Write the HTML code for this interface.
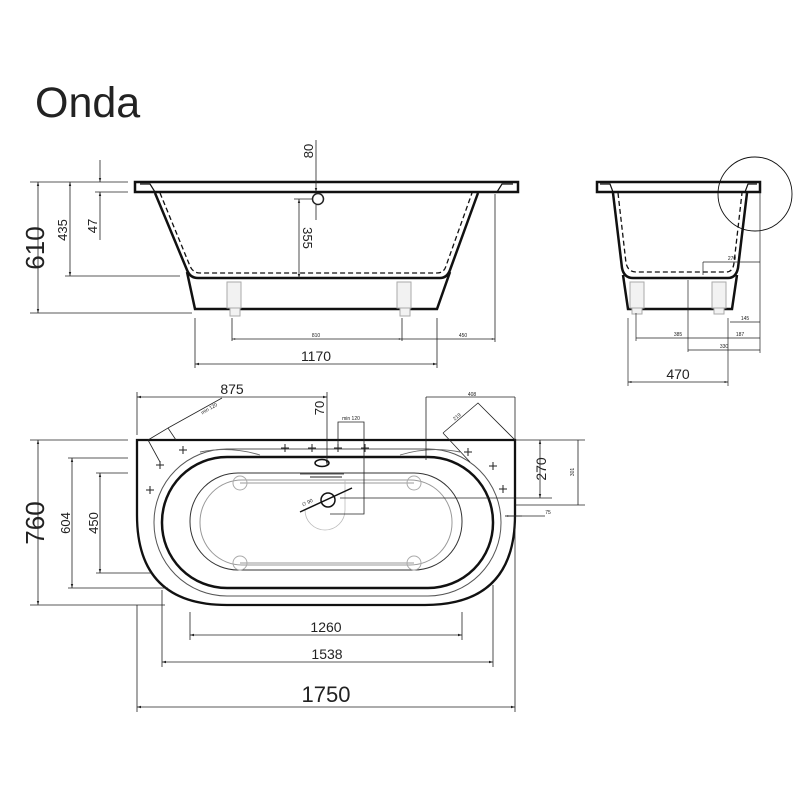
<!DOCTYPE html>
<html><head><meta charset="utf-8"><style>
html,body{margin:0;padding:0;background:#fff;width:800px;height:800px;overflow:hidden}
svg{display:block}
text{font-family:"Liberation Sans",sans-serif;fill:#222}
</style></head><body>
<svg width="800" height="800" viewBox="0 0 800 800" xmlns="http://www.w3.org/2000/svg">
<defs>
<marker id="a" viewBox="0 0 10 10" refX="10" refY="5" markerWidth="8" markerHeight="5" orient="auto-start-reverse"><path d="M0,2 L10,5 L0,8z" fill="#222"/></marker>
<marker id="s" viewBox="0 0 10 10" refX="10" refY="5" markerWidth="5" markerHeight="4" orient="auto-start-reverse"><path d="M0,2 L10,5 L0,8z" fill="#444"/></marker>
</defs>
<text x="35" y="117" font-size="43">Onda</text>

<!-- SIDE VIEW -->
<g stroke="#111" fill="none">
<rect x="135" y="182" width="383" height="10" stroke-width="2.5"/>
<path d="M140,184 L150,184 L155,192 M513,184 L502,184 L497,192" stroke-width="1.2"/>
<path d="M155,193 L187,270 Q190,278 198,278 L440,278 Q447,278 450,270 L478,193" stroke-width="2.5"/>
<path d="M160,193 L190,266 Q193,273 200,273 L437,273 Q444,273 446,266 L472,193" stroke-width="1.3" stroke-dasharray="5,3"/>
<path d="M187,272 L195,309 L437,309 L450,272" stroke-width="2.5"/>
</g>
<g stroke="#aaa" fill="#f2f2f2" stroke-width="1">
<rect x="227" y="282" width="14" height="26"/><rect x="230" y="308" width="10" height="8"/>
<rect x="397" y="282" width="14" height="26"/><rect x="400" y="308" width="10" height="8"/>
</g>
<g stroke="#222" fill="none" stroke-width="0.8">
<line x1="30" y1="182" x2="128" y2="182"/><line x1="30" y1="313" x2="192" y2="313"/>
<line x1="38" y1="182" x2="38" y2="313" marker-start="url(#a)" marker-end="url(#a)"/>
<line x1="65" y1="276" x2="180" y2="276"/>
<line x1="70" y1="182" x2="70" y2="276" marker-start="url(#a)" marker-end="url(#a)"/>
<line x1="95" y1="192" x2="128" y2="192"/>
<line x1="100" y1="160" x2="100" y2="182" marker-end="url(#a)"/>
<line x1="100" y1="240" x2="100" y2="192" marker-end="url(#a)"/>
<line x1="316" y1="140" x2="316" y2="192" marker-end="url(#a)"/>
<line x1="316" y1="205" x2="316" y2="220"/>
<circle cx="318" cy="199" r="5.5" stroke-width="1.5"/>
<line x1="294" y1="199" x2="312" y2="199"/>
<line x1="299" y1="199" x2="299" y2="278" marker-start="url(#a)" marker-end="url(#a)"/>
<line x1="232" y1="318" x2="232" y2="341"/><line x1="402" y1="318" x2="402" y2="341"/>
<line x1="495" y1="194" x2="495" y2="342"/>
<line x1="232" y1="339" x2="402" y2="339" marker-start="url(#s)" marker-end="url(#s)"/>
<line x1="402" y1="339" x2="495" y2="339" marker-end="url(#s)"/>
<line x1="195" y1="318" x2="195" y2="368"/><line x1="437" y1="318" x2="437" y2="368"/>
<line x1="195" y1="364" x2="437" y2="364" marker-start="url(#a)" marker-end="url(#a)"/>
</g>
<text transform="translate(44,248) rotate(-90)" font-size="26" text-anchor="middle">610</text>
<text transform="translate(67,230) rotate(-90)" font-size="13" text-anchor="middle">435</text>
<text transform="translate(97,226) rotate(-90)" font-size="13" text-anchor="middle">47</text>
<text transform="translate(313,151) rotate(-90)" font-size="13" text-anchor="middle">80</text>
<text transform="translate(303,238) rotate(90)" font-size="13" text-anchor="middle">355</text>
<text x="316" y="337" font-size="5" text-anchor="middle">810</text>
<text x="463" y="337" font-size="5" text-anchor="middle">450</text>
<text x="316" y="361" font-size="14" text-anchor="middle">1170</text>

<!-- SECTION VIEW -->
<g stroke="#111" fill="none">
<rect x="597" y="182" width="163" height="10" stroke-width="2.5"/>
<path d="M600,184 L610,184 L613,192 M757,184 L748,184 L745,192" stroke-width="1.2"/>
<path d="M613,193 L622,268 Q624,278 633,278 L728,278 Q736,278 738,268 L747,193" stroke-width="2.5"/>
<path d="M618,193 L626,263 Q628,272 636,272 L726,272 Q733,272 734,263 L742,193" stroke-width="1.3" stroke-dasharray="5,3"/>
<path d="M623,275 L628,309 L732,309 L737,275" stroke-width="2.5"/>
<circle cx="755" cy="194" r="37" stroke-width="0.9"/>
</g>
<g stroke="#aaa" fill="#f2f2f2" stroke-width="1">
<rect x="630" y="282" width="14" height="26"/><rect x="632" y="308" width="10" height="6"/>
<rect x="712" y="282" width="14" height="26"/><rect x="714" y="308" width="10" height="6"/>
</g>
<g stroke="#222" fill="none" stroke-width="0.7">
<line x1="760" y1="193" x2="760" y2="353"/>
<line x1="703" y1="262" x2="760" y2="262"/><line x1="703" y1="262" x2="703" y2="275"/>
<line x1="730" y1="322" x2="760" y2="322"/>
<line x1="636" y1="313" x2="636" y2="341"/>
<line x1="636" y1="338" x2="760" y2="338"/>
<line x1="688" y1="280" x2="688" y2="352"/>
<line x1="688" y1="350" x2="760" y2="350"/>
<line x1="628" y1="318" x2="628" y2="386"/><line x1="728" y1="318" x2="728" y2="386"/>
<line x1="628" y1="382" x2="728" y2="382" marker-start="url(#a)" marker-end="url(#a)"/>
</g>
<g font-size="5" text-anchor="middle">
<text x="732" y="260">270</text><text x="745" y="320">145</text><text x="678" y="336">385</text><text x="740" y="336">187</text><text x="724" y="348">330</text>
</g>
<text x="678" y="379" font-size="14" text-anchor="middle">470</text>

<!-- TOP VIEW -->
<g fill="none">
<path d="M137,440 L515,440 L515,515 Q515,605 425,605 L227,605 Q137,605 137,515 Z" stroke="#111" stroke-width="2.3"/>
<rect x="154" y="449" width="347" height="147" rx="73" stroke="#555" stroke-width="1"/>
<rect x="162" y="457" width="331" height="131" rx="65" stroke="#111" stroke-width="2.5"/>
<path d="M200,452 Q230,446 260,455 M400,455 Q430,446 460,452" stroke="#666" stroke-width="0.9"/>
<rect x="190" y="473" width="272" height="97" rx="48" stroke="#333" stroke-width="1"/>
<rect x="200" y="480" width="252" height="85" rx="42" stroke="#999" stroke-width="1"/>
<line x1="240" y1="483" x2="414" y2="483" stroke="#999"/>
<line x1="240" y1="563" x2="414" y2="563" stroke="#999"/>
<g stroke="#aaa" stroke-width="1"><circle cx="240" cy="483" r="7"/><circle cx="414" cy="483" r="7"/><circle cx="240" cy="563" r="7"/><circle cx="414" cy="563" r="7"/></g>
<path d="M305,510 A20,20 0 0 0 345,510 L345,480" stroke="#bbb" stroke-width="0.8"/>
<ellipse cx="322" cy="463" rx="7" ry="3.5" stroke="#111" stroke-width="1.5"/>
<line x1="310" y1="477" x2="342" y2="477" stroke="#222" stroke-width="1"/>
<circle cx="328" cy="500" r="7" stroke="#111" stroke-width="1.5"/>
<line x1="300" y1="512" x2="352" y2="488" stroke="#111" stroke-width="1.5"/>
</g>
<g stroke="#222" stroke-width="1">
<path d="M146,490h8M150,486v8 M156,465h8M160,461v8 M179,450h8M183,446v8 M281,448h8M285,444v8 M308,448h8M312,444v8 M334,448h8M338,444v8 M361,448h8M365,444v8 M464,452h8M468,448v8 M489,466h8M493,462v8 M499,489h8M503,485v8"/>
</g>
<g stroke="#222" fill="none" stroke-width="0.8">
<line x1="137" y1="392" x2="137" y2="435"/>
<line x1="137" y1="397" x2="327" y2="397" marker-start="url(#a)" marker-end="url(#a)"/>
<line x1="327" y1="392" x2="327" y2="465" marker-end="url(#a)"/>
<path d="M148,440 L168,428 L176,440 M148,440 L160,462 M168,428 L222,398"/>
<path d="M338,444 L338,422 L364,422 L364,514 L330,514"/>
<line x1="300" y1="474" x2="344" y2="474"/>
<line x1="426" y1="397" x2="426" y2="460"/>
<line x1="426" y1="397" x2="515" y2="397"/><line x1="515" y1="397" x2="515" y2="440"/>
<path d="M443,433 L478,403 L515,440 M443,433 L470,462"/>
<line x1="515" y1="440" x2="585" y2="440"/>
<line x1="340" y1="498" x2="552" y2="498"/>
<line x1="540" y1="440" x2="540" y2="498" marker-start="url(#a)" marker-end="url(#a)"/>
<line x1="515" y1="505" x2="585" y2="505"/>
<line x1="578" y1="440" x2="578" y2="505"/>
<line x1="505" y1="516" x2="545" y2="516"/>
<line x1="522" y1="516" x2="505" y2="516" marker-end="url(#s)"/>
<line x1="30" y1="440" x2="128" y2="440"/>
<line x1="30" y1="605" x2="165" y2="605"/>
<line x1="38" y1="440" x2="38" y2="605" marker-start="url(#a)" marker-end="url(#a)"/>
<line x1="68" y1="458" x2="128" y2="458"/>
<line x1="68" y1="588" x2="168" y2="588"/>
<line x1="72" y1="458" x2="72" y2="588" marker-start="url(#a)" marker-end="url(#a)"/>
<line x1="96" y1="473" x2="128" y2="473"/>
<line x1="96" y1="573" x2="152" y2="573"/>
<line x1="100" y1="473" x2="100" y2="573" marker-start="url(#a)" marker-end="url(#a)"/>
<line x1="190" y1="612" x2="190" y2="640"/><line x1="462" y1="612" x2="462" y2="640"/>
<line x1="190" y1="635" x2="462" y2="635" marker-start="url(#a)" marker-end="url(#a)"/>
<line x1="162" y1="590" x2="162" y2="667"/><line x1="493" y1="585" x2="493" y2="667"/>
<line x1="162" y1="662" x2="493" y2="662" marker-start="url(#a)" marker-end="url(#a)"/>
<line x1="137" y1="605" x2="137" y2="712"/><line x1="515" y1="515" x2="515" y2="712"/>
<line x1="137" y1="707" x2="515" y2="707" marker-start="url(#a)" marker-end="url(#a)"/>
</g>
<text x="232" y="394" font-size="14" text-anchor="middle">875</text>
<text transform="translate(324,408) rotate(-90)" font-size="13" text-anchor="middle">70</text>
<text x="351" y="420" font-size="5" text-anchor="middle">min 120</text>
<text transform="translate(210,410) rotate(-30)" font-size="5" text-anchor="middle">min 120</text>
<text x="472" y="396" font-size="5" text-anchor="middle">408</text>
<text transform="translate(458,418) rotate(-40)" font-size="5" text-anchor="middle">219</text>
<text transform="translate(546,469) rotate(-90)" font-size="14" text-anchor="middle">270</text>
<text transform="translate(574,472) rotate(-90)" font-size="5" text-anchor="middle">301</text>
<text x="548" y="514" font-size="5" text-anchor="middle">75</text>
<text transform="translate(308,504) rotate(-25)" font-size="5" text-anchor="middle">∅ 90</text>
<text transform="translate(44,523) rotate(-90)" font-size="26" text-anchor="middle">760</text>
<text transform="translate(70,523) rotate(-90)" font-size="13" text-anchor="middle">604</text>
<text transform="translate(98,523) rotate(-90)" font-size="13" text-anchor="middle">450</text>
<text x="326" y="632" font-size="14" text-anchor="middle">1260</text>
<text x="327" y="659" font-size="14" text-anchor="middle">1538</text>
<text x="326" y="702" font-size="22" text-anchor="middle">1750</text>
</svg>
</body></html>
